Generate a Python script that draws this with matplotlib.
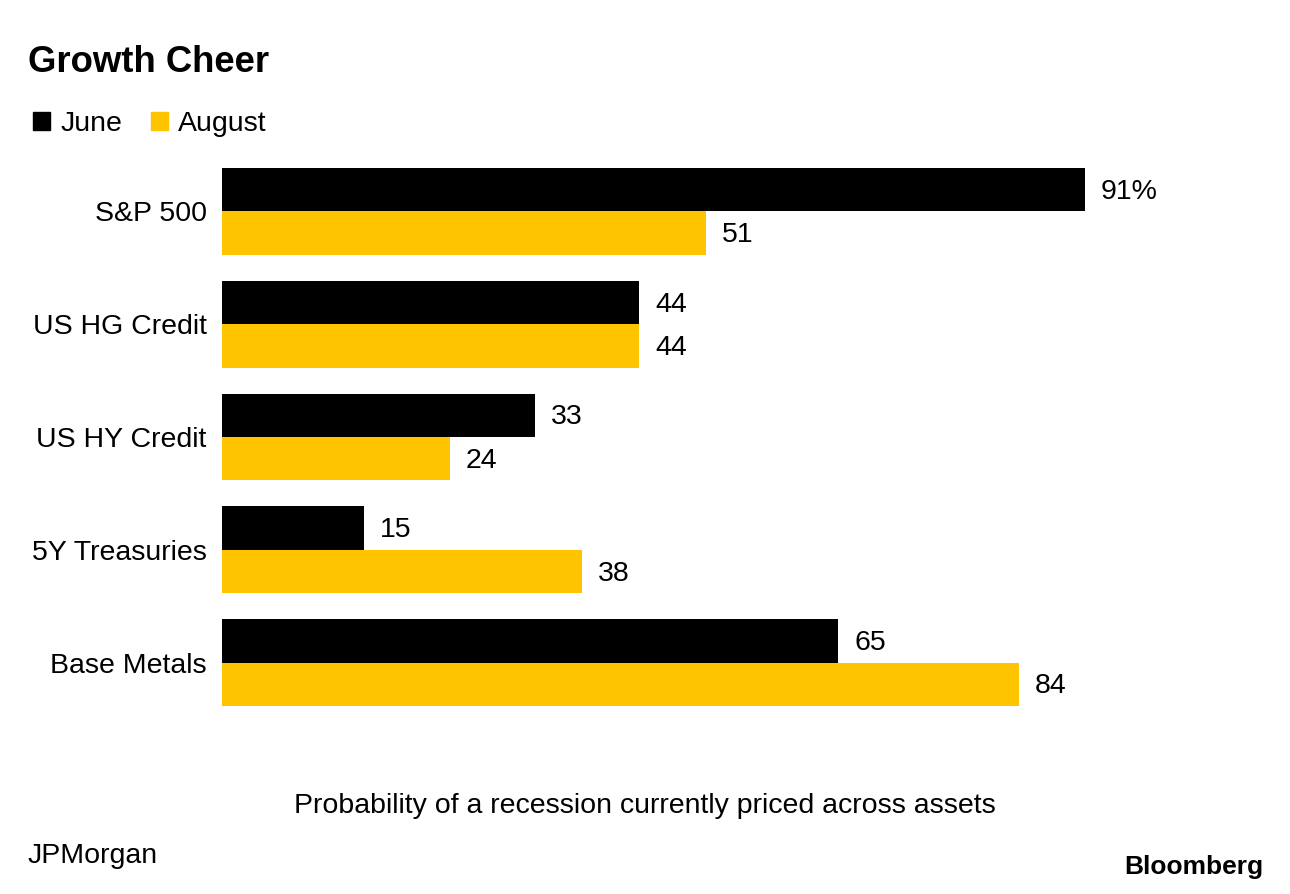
import matplotlib.pyplot as plt
from matplotlib.patches import Patch
import numpy as np

plt.rcParams['font.family'] = ['Liberation Sans', 'DejaVu Sans']

categories = ['S&P 500', 'US HG Credit', 'US HY Credit', '5Y Treasuries', 'Base Metals']
june = [91, 44, 33, 15, 65]
august = [51, 44, 24, 38, 84]

black = '#000000'
yellow = '#ffc400'

fig = plt.figure(figsize=(12.9, 8.94), dpi=100)
W, H = 1290, 894
# axes from x=222 px to value 100, y from 168 to 706 px
px = 1085 - 222
ax = fig.add_axes([222 / W, 1 - 706 / H, (px / 91 * 100) / W, (706 - 168) / H])

y = np.arange(len(categories))
h = 0.385
ax.barh(y - h / 2, june, height=h, color=black)
ax.barh(y + h / 2, august, height=h, color=yellow)
ax.set_xlim(0, 100)
ax.set_ylim(len(categories) - 1 + h, -h)

for i in range(len(categories)):
    lbl = f'{june[i]}%' if i == 0 else f'{june[i]}'
    ax.annotate(lbl, (june[i], y[i] - h / 2), xytext=(11.5, -1.5), textcoords='offset points',
                va='center', ha='left', fontsize=20.5)
    ax.annotate(f'{august[i]}', (august[i], y[i] + h / 2), xytext=(11.5, -1.5), textcoords='offset points',
                va='center', ha='left', fontsize=20.5)

ax.set_yticks(y)
ax.set_yticklabels(categories, fontsize=20.5)
ax.tick_params(axis='y', length=0, pad=11)
ax.set_xticks([])
for s in ax.spines.values():
    s.set_visible(False)

fig.text(28 / W, 1 - 62 / H, 'Growth Cheer', fontsize=26.3, fontweight='bold', va='center', ha='left')

handles = [Patch(color=black), Patch(color=yellow)]
fig.legend(handles, ['June', 'August'], loc='center left', bbox_to_anchor=(22 / W, 1 - 124 / H),
           ncol=2, frameon=False, fontsize=20.5, handlelength=0.6, handleheight=0.6,
           handletextpad=0.35, columnspacing=1.0, borderaxespad=0)

fig.text(645 / W, 1 - 806 / H, 'Probability of a recession currently priced across assets',
         fontsize=20.5, ha='center', va='center')
fig.text(28 / W, 1 - 856 / H, 'JPMorgan', fontsize=20.5, ha='left', va='center')
fig.text(1263 / W, 1 - 867 / H, 'Bloomberg', fontsize=19, fontweight='bold', ha='right', va='center')

fig.savefig('out.png', dpi=100)
